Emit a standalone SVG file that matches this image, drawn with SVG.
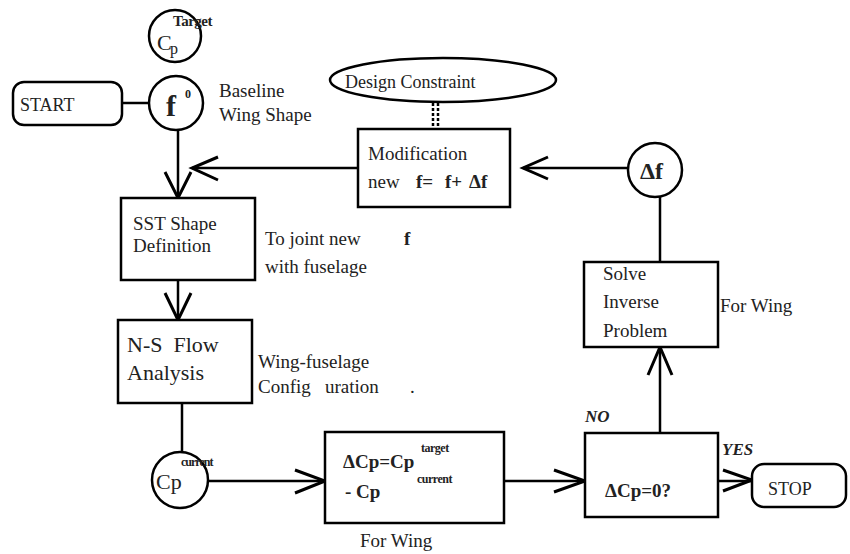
<svg xmlns="http://www.w3.org/2000/svg" width="850" height="554" viewBox="0 0 850 554" font-family="'Liberation Serif', 'DejaVu Serif', serif">
<style>
  text { font-family: "Liberation Serif", "DejaVu Serif", serif; fill: #222; }
  .t { font-size: 19px; }
  .b { font-weight: bold; }
  .sup { font-size: 12px; font-weight: bold; }
  .shape { fill: #fff; stroke: #000; stroke-width: 2.5; }
  .ln { fill: none; stroke: #000; stroke-width: 2.5; }
  .ah { fill: none; stroke: #000; stroke-width: 3; stroke-linejoin: miter; }
</style>
<rect width="850" height="554" fill="#fff"/>

<g id="connectors">
  <line class="ln" x1="122" y1="103" x2="149" y2="103"/>
  <line class="ln" x1="178" y1="130" x2="178" y2="198"/>
  <polyline class="ah" points="165,172 178,198 191,172"/>
  <line class="ln" x1="358" y1="168" x2="192" y2="168"/>
  <polyline class="ah" points="218,157 192,168 218,180"/>
  <line class="ln" x1="178" y1="280" x2="178" y2="320"/>
  <polyline class="ah" points="165,293 178,320 191,293"/>
  <line class="ln" x1="182" y1="403" x2="182" y2="452"/>
  <line class="ln" x1="208" y1="481" x2="325" y2="481"/>
  <polyline class="ah" points="295,470 325,481 295,493"/>
  <line class="ln" x1="504" y1="481" x2="585" y2="481"/>
  <polyline class="ah" points="554,470 585,481 554,492"/>
  <line class="ln" x1="718" y1="481" x2="752" y2="481"/>
  <polyline class="ah" points="723,470 752,480 723,491"/>
  <line class="ln" x1="660" y1="433" x2="660" y2="347"/>
  <polyline class="ah" points="648,375 660,347 672,375"/>
  <line class="ln" x1="660" y1="262" x2="660" y2="196"/>
  <line class="ln" x1="628" y1="168" x2="523" y2="168"/>
  <polyline class="ah" points="548,157 523,168 548,179"/>
  <line x1="433" y1="103" x2="433" y2="126" stroke="#000" stroke-width="2.5" stroke-dasharray="3,2"/>
  <line x1="438" y1="103" x2="438" y2="126" stroke="#000" stroke-width="2.5" stroke-dasharray="3,2"/>
</g>

<g id="target-cp">
  <circle class="shape" cx="175" cy="36" r="26"/>
  <text x="157" y="50" font-size="22">C</text>
  <text x="170" y="54" font-size="16">p</text>
  <text x="173" y="26" font-size="15" class="b" letter-spacing="-0.5">Target</text>
</g>

<g id="start">
  <rect class="shape" x="13" y="82" width="109" height="43" rx="11"/>
  <text x="20" y="111" font-size="18">START</text>
</g>

<g id="f0">
  <circle class="shape" cx="176" cy="103" r="27"/>
  <text x="166" y="116" font-size="30" class="b">f</text>
  <text x="185" y="98" class="sup">0</text>
  <text x="219" y="97" class="t">Baseline</text>
  <text x="219" y="121" class="t">Wing Shape</text>
</g>

<g id="design-constraint">
  <ellipse class="shape" cx="443" cy="80" rx="113" ry="22"/>
  <text x="345" y="88" font-size="18">Design Constraint</text>
</g>

<g id="modification">
  <rect class="shape" x="358" y="129" width="152" height="78"/>
  <text x="368" y="160" class="t">Modification</text>
  <text x="368" y="188" class="t">new</text>
  <text x="416" y="188" class="t b">f=</text>
  <text x="445" y="188" class="t b">f+</text>
  <text x="469" y="188" class="t b">Δf</text>
</g>

<g id="delta-f">
  <circle class="shape" cx="655" cy="170" r="27"/>
  <text x="640" y="179" font-size="24" class="b">Δf</text>
</g>

<g id="sst">
  <rect class="shape" x="121" y="198" width="134" height="82"/>
  <text x="133" y="230" class="t">SST Shape</text>
  <text x="133" y="252" class="t">Definition</text>
  <text x="265" y="245" class="t">To joint new</text>
  <text x="404" y="245" class="t b">f</text>
  <text x="265" y="273" class="t">with fuselage</text>
</g>

<g id="ns-flow">
  <rect class="shape" x="118" y="320" width="134" height="83"/>
  <text x="127" y="352" font-size="22" xml:space="preserve">N-S  Flow</text>
  <text x="127" y="380" font-size="22">Analysis</text>
  <text x="258" y="368" class="t">Wing-fuselage</text>
  <text x="258" y="393" class="t" xml:space="preserve">Config   uration</text>
  <text x="410" y="393" class="t">.</text>
</g>

<g id="cp-current">
  <circle class="shape" cx="180" cy="480" r="28"/>
  <text x="156" y="489" font-size="22">Cp</text>
  <text x="181" y="466" class="sup" letter-spacing="-1">current</text>
</g>

<g id="delta-cp">
  <rect class="shape" x="325" y="432" width="179" height="91"/>
  <text x="343" y="468" font-size="19" class="b">ΔCp=Cp</text>
  <text x="421" y="452" class="sup" letter-spacing="-0.5">target</text>
  <text x="345" y="498" font-size="19" class="b">- Cp</text>
  <text x="417" y="483" class="sup" letter-spacing="-0.5">current</text>
  <text x="360" y="547" class="t">For Wing</text>
</g>

<g id="check">
  <rect class="shape" x="585" y="433" width="133" height="84"/>
  <text x="605" y="497" font-size="19" class="b">ΔCp=0?</text>
  <text x="585" y="422" font-size="17" class="b" font-style="italic">NO</text>
  <text x="722" y="455" font-size="17" class="b" font-style="italic">YES</text>
</g>

<g id="solve">
  <rect class="shape" x="584" y="262" width="134" height="85"/>
  <text x="603" y="280" class="t">Solve</text>
  <text x="603" y="308" class="t">Inverse</text>
  <text x="603" y="337" class="t">Problem</text>
  <text x="720" y="312" class="t">For Wing</text>
</g>

<g id="stop">
  <rect class="shape" x="752" y="464" width="94" height="43" rx="12"/>
  <text x="768" y="495" font-size="18">STOP</text>
</g>
</svg>
